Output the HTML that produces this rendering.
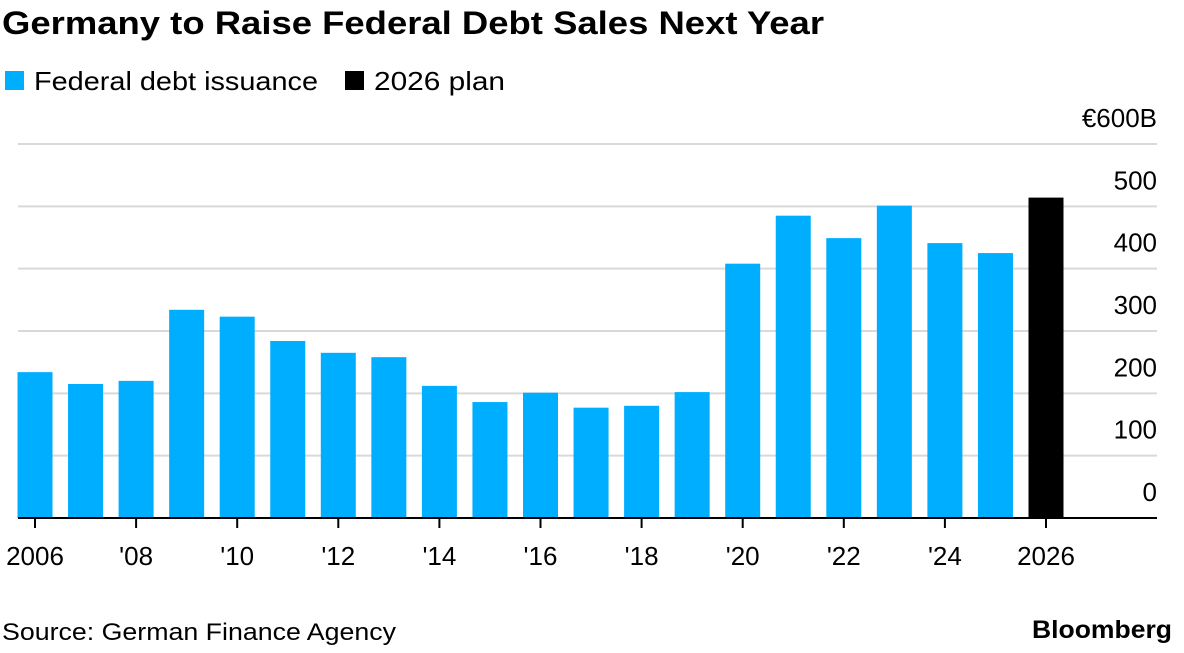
<!DOCTYPE html>
<html><head><meta charset="utf-8"><style>
body{margin:0;background:#fff;font-family:"Liberation Sans",sans-serif;}
svg text{font-family:"Liberation Sans",sans-serif;}
</style></head><body>
<svg width="1184" height="648">
<text x="2" y="34" font-size="32" font-weight="bold" fill="#000" textLength="822" lengthAdjust="spacingAndGlyphs">Germany to Raise Federal Debt Sales Next Year</text>
<rect x="5" y="71" width="19" height="19" fill="#00aeff"/>
<text x="34" y="90" font-size="26" textLength="284" lengthAdjust="spacingAndGlyphs">Federal debt issuance</text>
<rect x="345" y="71" width="19" height="19" fill="#000"/>
<text x="374" y="90" font-size="26" textLength="131" lengthAdjust="spacingAndGlyphs">2026 plan</text>
<g id="grid"></g><g id="bars"></g><g id="xaxis"></g>
<text x="2" y="640" font-size="24" textLength="394" lengthAdjust="spacingAndGlyphs">Source: German Finance Agency</text>
<text x="1032" y="638" font-size="25" font-weight="bold" textLength="140" lengthAdjust="spacingAndGlyphs">Bloomberg</text>
</svg>
<script>
const years=[2006,2007,2008,2009,2010,2011,2012,2013,2014,2015,2016,2017,2018,2019,2020,2021,2022,2023,2024,2025,2026];
const values=[234,215,220,334,323,284,265,258,212,186,201,177,180,202,408,485,449,501,441,425,514];
const yTicks=[0,100,200,300,400,500,600];
const yTickLabels=['0','100','200','300','400','500','€600B'];
const xTickYears=[2006,2008,2010,2012,2014,2016,2018,2020,2022,2024,2026];
const xTickLabels=['2006',"'08","'10","'12","'14","'16","'18","'20","'22","'24",'2026'];
const NS='http://www.w3.org/2000/svg';
const y=v=>518-v*(374/600);
const x=yr=>35+(yr-2006)*50.55;
function mk(tag,attrs,parent){const e=document.createElementNS(NS,tag);for(const k in attrs)e.setAttribute(k,attrs[k]);parent.appendChild(e);return e;}
const grid=document.getElementById('grid'),bars=document.getElementById('bars'),xa=document.getElementById('xaxis');
yTicks.forEach((t,i)=>{
 if(t>0){const l=mk('line',{x1:18,x2:1157,y1:y(t),y2:y(t),stroke:'#d9d9d9','stroke-width':2},grid);
 
 }
 const tx=mk('text',{x:1157,y:y(t)-17,'font-size':26,'text-anchor':'end'},grid);
 tx.textContent=yTickLabels[i];
 
 
});
years.forEach((yr,i)=>{
 const r=mk('rect',{x:x(yr)-17.5,y:y(values[i]),width:35,height:518-y(values[i]),fill:yr===2026?'#000':'#00aeff'},bars);
 
 
});
const base=mk('line',{x1:18,x2:1157,y1:518,y2:518,stroke:'#000','stroke-width':2},xa);


xTickYears.forEach((yr,i)=>{
 const tk=mk('line',{x1:x(yr),x2:x(yr),y1:518,y2:528,stroke:'#000','stroke-width':2},xa);
 
 
 const tx=mk('text',{x:x(yr),y:565,'font-size':26,'text-anchor':'middle'},xa);
 tx.textContent=xTickLabels[i];
 
 
});
</script>
</body></html>
